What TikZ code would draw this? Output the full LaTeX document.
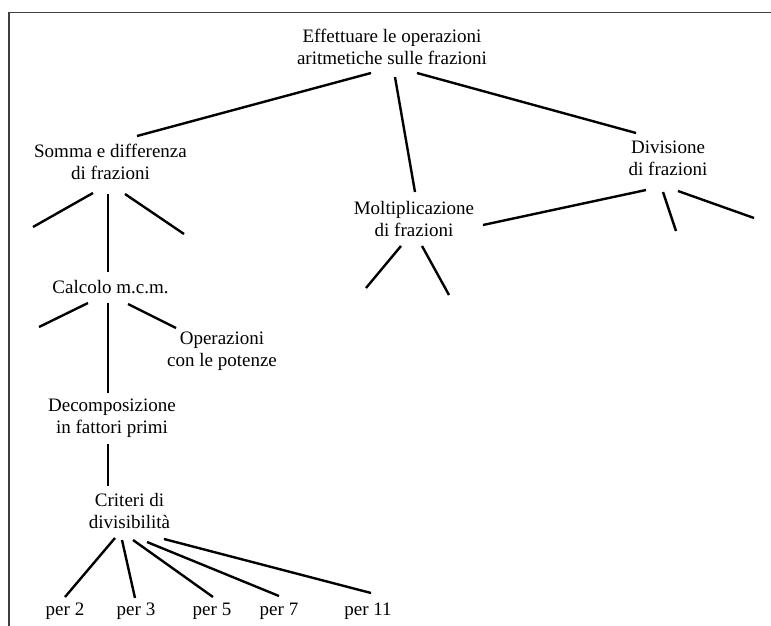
\documentclass[tikz,border=0pt]{standalone}
\usepackage{fontspec}
\setmainfont{Liberation Serif}
\begin{document}
\begin{tikzpicture}[x=1pt,y=-1pt,
  lbl/.style={font=\fontsize{19}{22}\selectfont, align=center, inner sep=0pt, outer sep=0pt},
  conn/.style={line width=2.4pt},
  frame/.style={line width=1.1pt, black!75}]
\useasboundingbox (0,0) rectangle (771,626);
\draw[frame] (771,12.5) -- (9,12.5) -- (9,626);

% nodes
\node[lbl] (root) at (392,48.7) {\strut Effettuare le operazioni\\\strut aritmetiche sulle frazioni};
\node[lbl] (somma) at (110.5,164) {\strut Somma e differenza\\\strut di frazioni};
\node[lbl] (mcm) at (110.5,288.6) {\strut Calcolo m.c.m.};
\node[lbl] (pot) at (222,350.6) {\strut Operazioni\\\strut con le potenze};
\node[lbl] (dec) at (112,418) {\strut Decomposizione\\\strut in fattori primi};
\node[lbl] (crit) at (129.5,513) {\strut Criteri di\\\strut divisibilità};
\node[lbl] (p2) at (65,610.6) {\strut per 2};
\node[lbl] (p3) at (136,610.6) {\strut per 3};
\node[lbl] (p5) at (212,610.6) {\strut per 5};
\node[lbl] (p7) at (279,610.6) {\strut per 7};
\node[lbl] (p11) at (368,610.6) {\strut per 11};
\node[lbl] (molt) at (414,221) {\strut Moltiplicazione\\\strut di frazioni};
\node[lbl] (div) at (668,159.6) {\strut Divisione\\\strut di frazioni};

% connector end points
\coordinate (rA) at (371,73);   \coordinate (sA) at (137,136);
\coordinate (rB) at (395,77);   \coordinate (mA) at (415,192);
\coordinate (rC) at (417,73);   \coordinate (dA) at (636,133);
\coordinate (sL) at (93,193);   \coordinate (sLe) at (33,227);
\coordinate (sM) at (108,194);  \coordinate (cA) at (108,272);
\coordinate (sR) at (125,194);  \coordinate (sRe) at (184,234);
\coordinate (cL) at (88,303);   \coordinate (cLe) at (39,327);
\coordinate (cM) at (108,303);  \coordinate (deA) at (108,393);
\coordinate (cR) at (128,304);  \coordinate (pA) at (176,328);
\coordinate (deB) at (108,444); \coordinate (crA) at (108,486);
\coordinate (k2) at (115,538);  \coordinate (q2) at (65,597);
\coordinate (k3) at (122,540);  \coordinate (q3) at (135,598);
\coordinate (k5) at (133,540);  \coordinate (q5) at (213,597);
\coordinate (k7) at (147,542);  \coordinate (q7) at (279,596);
\coordinate (k11) at (164,539); \coordinate (q11) at (371,593);
\coordinate (mL) at (401,246);  \coordinate (mLe) at (366,288);
\coordinate (mR) at (422,246);  \coordinate (mRe) at (449,295);
\coordinate (dL) at (646,190);  \coordinate (mB) at (483,225);
\coordinate (dM) at (663,192);  \coordinate (dMe) at (676,231);
\coordinate (dR) at (678,191);  \coordinate (dRe) at (754,218);

% connectors
\draw[conn] (rA) -- (sA);
\draw[conn] (rB) -- (mA);
\draw[conn] (rC) -- (dA);
\draw[conn] (sL) -- (sLe);
\draw[conn] (sM) -- (cA);
\draw[conn] (sR) -- (sRe);
\draw[conn] (cL) -- (cLe);
\draw[conn] (cM) -- (deA);
\draw[conn] (cR) -- (pA);
\draw[conn] (deB) -- (crA);
\draw[conn] (k2) -- (q2);
\draw[conn] (k3) -- (q3);
\draw[conn] (k5) -- (q5);
\draw[conn] (k7) -- (q7);
\draw[conn] (k11) -- (q11);
\draw[conn] (mL) -- (mLe);
\draw[conn] (mR) -- (mRe);
\draw[conn] (dL) -- (mB);
\draw[conn] (dM) -- (dMe);
\draw[conn] (dR) -- (dRe);
\end{tikzpicture}
\end{document}
